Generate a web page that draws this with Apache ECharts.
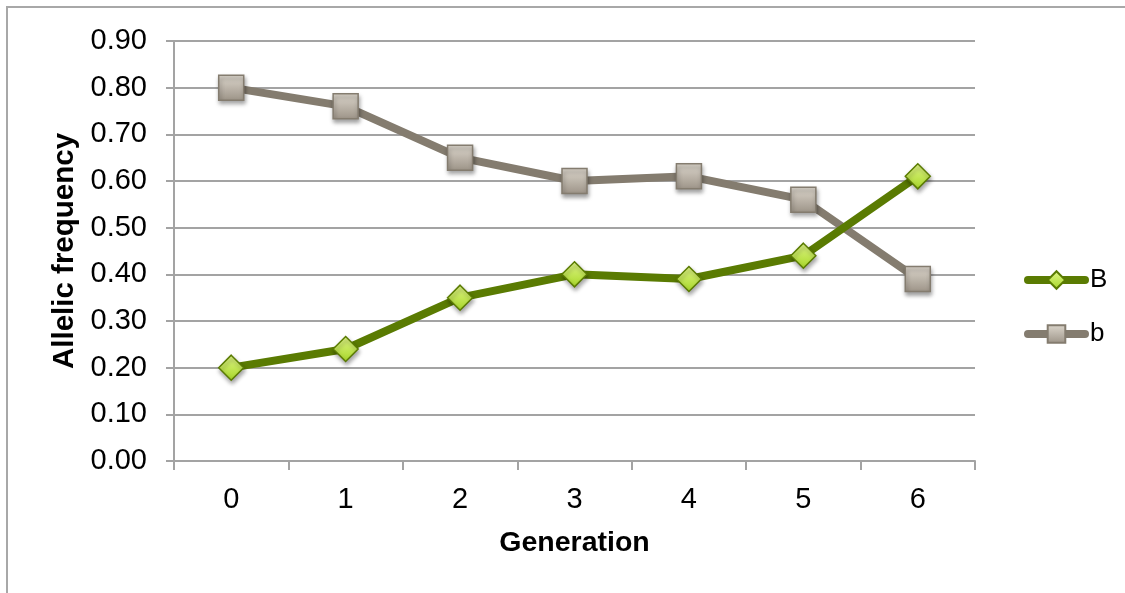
<!DOCTYPE html>
<html>
<head>
<meta charset="utf-8">
<script src="https://cdn.jsdelivr.net/npm/echarts@6/dist/echarts.min.js"></script>
<style>
  html, body { margin: 0; padding: 0; background: #fff; }
  #chart { width: 1125px; height: 593px; }
</style>
</head>
<body>
<div id="chart"></div>
<script>
// Allele frequencies per generation
const generations = ['0', '1', '2', '3', '4', '5', '6'];
const freqB = [0.20, 0.24, 0.35, 0.40, 0.39, 0.44, 0.61];
const freqb = [0.80, 0.76, 0.65, 0.60, 0.61, 0.56, 0.39];

const font = '"Liberation Sans", Arial, Helvetica, sans-serif';
const gridColor = '#a3a3a3';

const chart = echarts.init(document.getElementById('chart'));

const diamondFill = new echarts.graphic.LinearGradient(0, 0, 0, 1, [
  { offset: 0, color: '#e2f78a' },
  { offset: 1, color: '#a6d626' }
]);
const squareFill = new echarts.graphic.LinearGradient(0, 0, 0, 1, [
  { offset: 0, color: '#ddd7cd' },
  { offset: 1, color: '#9c9387' }
]);

chart.setOption({
  animation: false,
  backgroundColor: '#fff',
  textStyle: { fontFamily: font },
  graphic: [{
    type: 'rect',
    shape: { x: 7, y: 7, width: 1140, height: 620 },
    style: { fill: 'none', stroke: '#a8a8a8', lineWidth: 2 },
    silent: true
  }],
  grid: { left: 174, right: 150, top: 41, bottom: 132 },
  legend: {
    orient: 'vertical',
    left: 1019,
    top: 262,
    itemWidth: 57,
    itemHeight: 22,
    itemGap: 28,
    lineStyle: { width: 8, cap: 'round' },
    textStyle: { fontSize: 26, color: '#000', fontFamily: font, padding: [0, 0, 0, 0] },
    data: ['B', 'b']
  },
  xAxis: {
    type: 'category',
    data: generations,
    boundaryGap: true,
    name: 'Generation',
    nameLocation: 'middle',
    nameGap: 68,
    nameTextStyle: { fontSize: 28.5, fontWeight: 'bold', color: '#000', fontFamily: font },
    axisLine: { lineStyle: { color: gridColor, width: 2 } },
    axisTick: { show: true, alignWithLabel: false, length: 9, lineStyle: { color: gridColor, width: 2 } },
    axisLabel: { fontSize: 29, color: '#000', margin: 24, fontFamily: font }
  },
  yAxis: {
    type: 'value',
    min: 0,
    max: 0.9,
    interval: 0.1,
    name: 'Allelic frequency',
    nameLocation: 'middle',
    nameGap: 93,
    nameTextStyle: { fontSize: 29.5, fontWeight: 'bold', color: '#000', fontFamily: font },
    axisLine: { show: true, lineStyle: { color: gridColor, width: 2 } },
    axisTick: { show: true, length: 8, lineStyle: { color: gridColor, width: 2 } },
    axisLabel: {
      fontSize: 29, color: '#000', margin: 27, fontFamily: font,
      formatter: v => v.toFixed(2)
    },
    splitLine: { lineStyle: { color: gridColor, width: 2 } }
  },
  series: [
    {
      name: 'B',
      type: 'line',
      data: freqB,
      symbol: 'diamond',
      symbolSize: 25,
      lineStyle: { color: '#5a7b02', width: 8 },
      itemStyle: {
        color: diamondFill,
        borderColor: '#5a7b02',
        borderWidth: 1.5,
        shadowColor: 'rgba(0,0,0,0.35)',
        shadowBlur: 4,
        shadowOffsetX: 1,
        shadowOffsetY: 3
      },
      z: 3
    },
    {
      name: 'b',
      type: 'line',
      data: freqb,
      symbol: 'rect',
      symbolSize: 25,
      lineStyle: { color: '#847c6f', width: 8 },
      itemStyle: {
        color: squareFill,
        borderColor: '#847c6f',
        borderWidth: 1.5,
        shadowColor: 'rgba(0,0,0,0.35)',
        shadowBlur: 4,
        shadowOffsetX: 1,
        shadowOffsetY: 3
      },
      z: 2
    }
  ]
});
</script>
</body>
</html>
